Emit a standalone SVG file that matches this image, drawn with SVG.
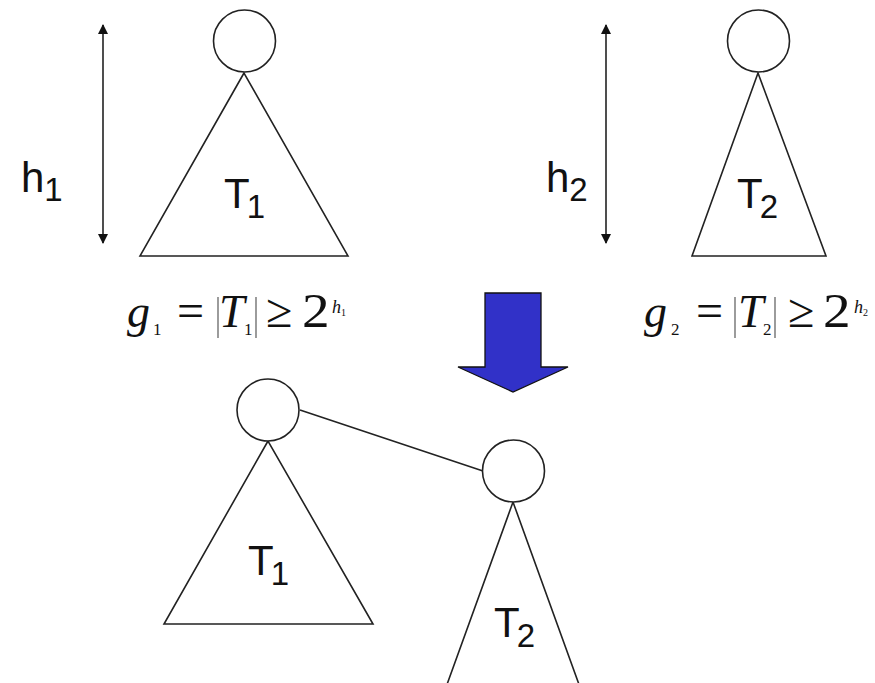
<svg xmlns="http://www.w3.org/2000/svg" width="875" height="683" viewBox="0 0 875 683">
<style>
.ln{fill:none;stroke:#222;stroke-width:1.6}
.nd{fill:#fff;stroke:#222;stroke-width:1.6}
.lab{font-family:"Liberation Sans",Arial,sans-serif;font-size:42px;fill:#111}
.sub{font-family:"Liberation Sans",Arial,sans-serif;font-size:33px;fill:#111}
.m{font-family:"Liberation Serif","Times New Roman",serif;font-size:48px;fill:#111}
.mi{font-family:"Liberation Serif","Times New Roman",serif;font-size:46px;font-style:italic;fill:#111}
.ms{font-family:"Liberation Serif","Times New Roman",serif;font-size:17px;fill:#111}
.mss{font-family:"Liberation Serif","Times New Roman",serif;font-size:18px;font-style:italic;fill:#111}
.msss{font-family:"Liberation Serif","Times New Roman",serif;font-size:10px;fill:#111}
.bar{stroke:#666;stroke-width:1.3}
</style>
<defs>
<marker id="ah" viewBox="0 0 10 10" refX="9" refY="5" markerWidth="11" markerHeight="10" markerUnits="userSpaceOnUse" orient="auto-start-reverse">
<path d="M0,0 L10,5 L0,10 Z" fill="#111"/>
</marker>
</defs>

<g id="connectors">
<line class="ln" x1="103" y1="25" x2="103" y2="243" marker-start="url(#ah)" marker-end="url(#ah)"/>
<line class="ln" x1="606" y1="25" x2="606" y2="243" marker-start="url(#ah)" marker-end="url(#ah)"/>
<line class="ln" x1="300" y1="410" x2="483" y2="471"/>
</g>

<g id="h1-label">
<text class="lab" x="21" y="192">h<tspan class="sub" dy="9">1</tspan></text>
</g>
<g id="h2-label">
<text class="lab" x="546" y="192">h<tspan class="sub" dy="9">2</tspan></text>
</g>

<g id="tree1-top">
<polygon class="ln" points="244,73 140,256 348,256"/>
<circle class="nd" cx="244.5" cy="41" r="31"/>
<text class="lab" x="224" y="208">T<tspan class="sub" dx="-3" dy="10">1</tspan></text>
</g>

<g id="tree2-top">
<polygon class="ln" points="758,73 692,256 826,256"/>
<circle class="nd" cx="758.5" cy="41" r="31"/>
<text class="lab" x="737" y="208">T<tspan class="sub" dx="-3" dy="10">2</tspan></text>
</g>

<g id="formula1">
<text class="mi" x="127" y="327">g</text>
<text class="ms" x="153" y="335">1</text>
<text class="m" x="177" y="327">=</text>
<line class="bar" x1="218" y1="297" x2="218" y2="338"/>
<text class="mi" x="219" y="327">T</text>
<text class="ms" x="244" y="335">1</text>
<line class="bar" x1="256" y1="297" x2="256" y2="338"/>
<text class="m" x="266" y="327">≥</text>
<text class="m" transform="translate(302,327) scale(1.15,1)">2</text>
<text class="mss" x="332" y="313">h</text>
<text class="msss" x="341" y="316">1</text>
</g>

<g id="formula2">
<text class="mi" x="644" y="327">g</text>
<text class="ms" x="671" y="335">2</text>
<text class="m" x="696" y="327">=</text>
<line class="bar" x1="735" y1="297" x2="735" y2="338"/>
<text class="mi" x="738" y="327">T</text>
<text class="ms" x="763" y="335">2</text>
<line class="bar" x1="775" y1="297" x2="775" y2="338"/>
<text class="m" x="788" y="327">≥</text>
<text class="m" transform="translate(823,327) scale(1.15,1)">2</text>
<text class="mss" x="854" y="313">h</text>
<text class="msss" x="863" y="316">2</text>
</g>

<g id="big-arrow">
<polygon points="485,293 541,293 541,367 568,367 513,392 458,367 485,367" fill="#3131c8" stroke="#111" stroke-width="1.3"/>
</g>

<g id="tree1-bottom">
<polygon class="ln" points="268,441 164,624 373,624"/>
<circle class="nd" cx="268" cy="410" r="31"/>
<text class="lab" x="248" y="575">T<tspan class="sub" dx="-3" dy="10">1</tspan></text>
</g>

<g id="tree2-bottom">
<polyline class="ln" points="445,690 513,502 581,690"/>
<circle class="nd" cx="513.5" cy="471" r="31"/>
<text class="lab" x="494" y="637">T<tspan class="sub" dx="-3" dy="10">2</tspan></text>
</g>
</svg>
